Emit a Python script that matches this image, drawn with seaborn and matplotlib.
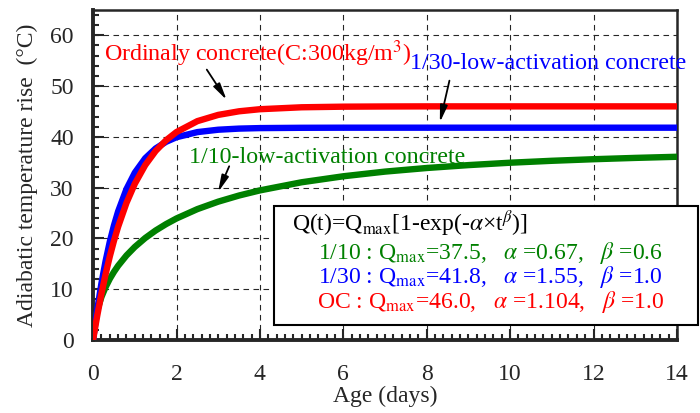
import pandas as pd
import matplotlib.pyplot as plt
import seaborn as sns
from matplotlib.patches import Rectangle
from matplotlib.ticker import MultipleLocator

# Age (days) and adiabatic temperature rise
age = [0, 0.05, 0.1, 0.2, 0.3, 0.4, 0.5, 0.6, 0.8, 1.0, 1.25, 1.5, 1.75, 2.0,
       2.5, 3, 3.5, 4, 5, 6, 7, 8, 9, 10, 11, 12, 13, 14]
low10 = [0, 3.94, 5.81, 8.45, 10.41, 12.03, 13.40, 14.60, 16.63, 18.31, 20.07,
         21.55, 22.81, 23.92, 25.76, 27.23, 28.44, 29.45, 31.05, 32.23, 33.15,
         33.86, 34.43, 34.90, 35.28, 35.59, 35.85, 36.07]
low30 = [0, 3.12, 6.00, 11.14, 15.54, 19.32, 22.54, 25.31, 29.70, 32.93, 35.78,
         37.71, 39.02, 39.92, 40.93, 41.40, 41.62, 41.72, 41.78, 41.80, 41.80,
         41.80, 41.80, 41.80, 41.80, 41.80, 41.80, 41.80]
ordinary = [0, 2.47, 4.81, 9.11, 12.97, 16.42, 19.51, 22.28, 26.98, 30.75, 34.43,
            37.22, 39.33, 40.94, 43.09, 44.32, 45.03, 45.44, 45.82, 45.94, 45.98,
            46.0, 46.0, 46.0, 46.0, 46.0, 46.0, 46.0]

series = ['1/10', '1/30', 'OC']
colors = {'1/10': '#008000', '1/30': '#0000ff', 'OC': '#ff0000'}

df = pd.concat([
    pd.DataFrame({'Age': age, 'Q': low10, 'Mix': '1/10'}),
    pd.DataFrame({'Age': age, 'Q': low30, 'Mix': '1/30'}),
    pd.DataFrame({'Age': age, 'Q': ordinary, 'Mix': 'OC'}),
])

sns.set_style('ticks')
plt.rcParams['font.family'] = ['Liberation Serif', 'DejaVu Serif']
plt.rcParams['mathtext.fontset'] = 'stix'

fig = plt.figure(figsize=(7, 4.13), dpi=100)
ax = fig.add_axes([0.133, 0.177, 0.834, 0.799])

sns.lineplot(data=df, x='Age', y='Q', hue='Mix', hue_order=series,
             palette=colors, linewidth=4.6, legend=False, ax=ax, zorder=3)

ax.set_xlim(0, 14)
ax.set_ylim(0, 65)
ax.xaxis.set_major_locator(MultipleLocator(2))
ax.xaxis.set_minor_locator(MultipleLocator(0.2))
ax.yaxis.set_major_locator(MultipleLocator(10))
ax.yaxis.set_minor_locator(MultipleLocator(2))
ax.tick_params(which='both', direction='in', top=False, right=False,
               labelsize=17, width=1.5)
ax.tick_params(which='major', length=8)
ax.tick_params(which='minor', length=4)
ax.tick_params(axis='x', which='major', pad=17)
ax.tick_params(axis='y', which='major', pad=14)
ax.grid(True, which='major', color='0.15', linestyle=(0, (5, 4)), linewidth=0.8)
for s in ['left', 'bottom']:
    ax.spines[s].set_linewidth(2.8)
for s in ['top', 'right']:
    ax.spines[s].set_linewidth(1.8)

ax.set_xlabel('Age (days)', fontsize=17, labelpad=1)
ax.set_ylabel('Adiabatic temperature rise  (°C)', fontsize=17, labelpad=9)

arrow = dict(arrowstyle='-|>,head_length=1.0,head_width=0.22', color='k', lw=1.3)
ax.annotate('', xy=(3.24, 46.8), xytext=(2.69, 53.7), arrowprops=arrow, zorder=4)
ax.annotate('', xy=(8.30, 42.3), xytext=(8.56, 51.6), arrowprops=arrow, zorder=4)
ax.annotate('', xy=(2.97, 28.6), xytext=(3.29, 34.7), arrowprops=arrow, zorder=4)

ax.text(0.26, 56.3, 'Ordinaly concrete(C:300kg/m$^3$)', color='#ff0000',
        fontsize=17.3, va='center', ha='left')
ax.text(7.6, 54.5, '1/30-low-activation concrete', color='#0000ff',
        fontsize=17.3, va='center', ha='left', clip_on=False)
ax.text(2.3, 35.9, '1/10-low-activation concrete', color='#008000',
        fontsize=17.3, va='center', ha='left')

# parameter box, sticks out past the right spine
box = Rectangle((274 / 700, 1 - 325 / 413), 424 / 700, 119 / 413,
                transform=fig.transFigure, facecolor='white', edgecolor='k',
                linewidth=1.5, zorder=5, clip_on=False)
fig.patches.append(box)

fig.text(292 / 700, 1 - 223 / 413, r'Q(t)=Q$_{\mathrm{max}}$[1-exp(-$\alpha$×t$^{\beta}$)]',
         color='k', fontsize=17, va='center', zorder=6)
fig.text(318 / 700, 1 - 253 / 413,
         r'1/10 : Q$_{\mathrm{max}}$=37.5,   $\alpha$ =0.67,   $\beta$ =0.6',
         color='#008000', fontsize=17, va='center', zorder=6)
fig.text(318 / 700, 1 - 277 / 413,
         r'1/30 : Q$_{\mathrm{max}}$=41.8,   $\alpha$ =1.55,   $\beta$ =1.0',
         color='#0000ff', fontsize=17, va='center', zorder=6)
fig.text(317 / 700, 1 - 302 / 413,
         r'OC : Q$_{\mathrm{max}}$=46.0,   $\alpha$ =1.104,   $\beta$ =1.0',
         color='#ff0000', fontsize=17, va='center', zorder=6)

fig.savefig('out.png', dpi=100)
